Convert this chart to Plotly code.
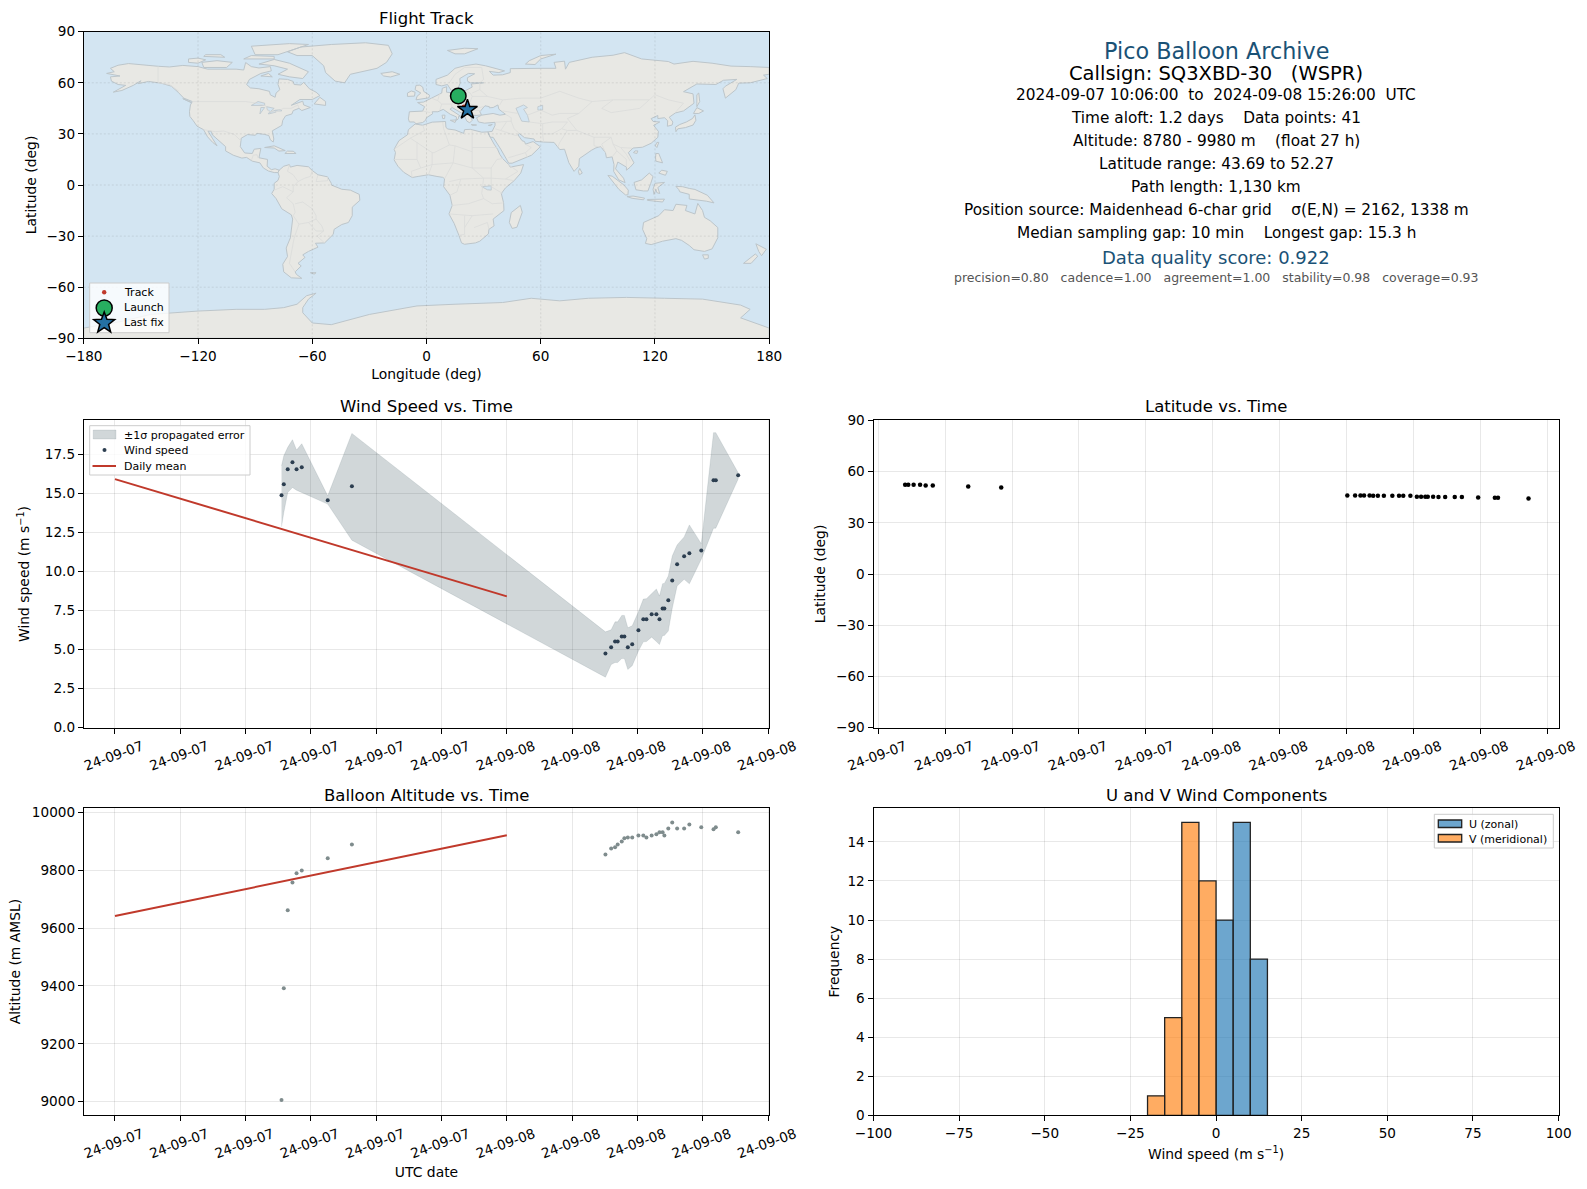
"""Pico balloon flight summary: map, status text, wind, latitude, altitude and wind histogram."""
import math

import pandas as pd
import plotly.graph_objects as go

W, H = 1587, 1189
FONT = "DejaVu Sans"

# Hours after 2024-09-07 00:00 UTC
hours = [10.2, 10.34, 10.58, 10.87, 11.12, 11.44, 13.03, 14.51, 30.04, 30.39, 30.63, 30.79, 31.04,
         31.2, 31.41, 31.68, 32.06, 32.36, 32.55, 32.87, 33.16, 33.35, 33.54, 33.65, 33.89, 34.13,
         34.43, 34.86, 35.18, 35.91, 36.66, 36.8, 38.17]
wind = [14.86, 15.57, 16.53, 16.97, 16.53, 16.65, 14.54, 15.44, 4.75, 5.14, 5.52, 5.52, 5.84,
        5.84, 5.14, 5.33, 6.23, 6.93, 6.93, 7.25, 7.25, 6.93, 7.63, 7.63, 8.15, 9.42,
        10.45, 10.96, 11.15, 11.34, 15.82, 15.82, 16.14]
wind_upper = [16.75, 17.39, 17.93, 18.42, 17.76, 18.16, 14.83, 18.82, 6.13, 6.26, 6.77, 6.77, 7.18,
              7.18, 6.39, 6.52, 7.41, 8.23, 8.25, 8.6, 8.87, 8.42, 9.21, 9.23, 9.7, 10.98,
              11.69, 12.2, 12.97, 11.77, 18.87, 18.87, 16.3]
wind_lower = [12.85, 13.76, 15.04, 15.36, 15.19, 15.04, 14.3, 11.99, 3.23, 4.04, 4.17, 4.17, 4.42,
              4.42, 3.72, 3.97, 4.9, 5.49, 5.51, 5.79, 5.51, 5.32, 5.9, 5.9, 6.18, 7.63,
              9.06, 9.49, 9.2, 10.77, 12.76, 12.76, 15.9]
latitude = [52.27, 52.25, 52.22, 52.2, 51.85, 51.8, 51.2, 50.6, 45.95, 45.95, 45.9, 45.9, 45.9,
            45.85, 45.85, 45.85, 45.85, 45.8, 45.8, 45.8, 45.25, 45.2, 45.2, 45.2, 45.2, 45.15,
            45.1, 45.05, 45.05, 44.8, 44.7, 44.7, 44.2]
longitude = [16.7, 16.8, 16.9, 17.0, 17.1, 17.2, 17.5, 17.8, 19.6, 19.7, 19.7, 19.8, 19.8,
             19.9, 19.9, 20.0, 20.0, 20.1, 20.1, 20.2, 20.3, 20.3, 20.4, 20.4, 20.5, 20.6,
             20.7, 20.8, 20.9, 21.0, 21.2, 21.3, 21.5]
altitude = [9005, 9392, 9662, 9758, 9790, 9800, 9842, 9890, 9855, 9876, 9880, 9890, 9900,
            9911, 9914, 9914, 9921, 9921, 9914, 9921, 9925, 9932, 9932, 9921, 9945, 9966,
            9945, 9945, 9959, 9949, 9942, 9949, 9932]

mean_hours = [0, 24]
mean_wind = [15.9, 8.4]
mean_altitude = [9642, 9922]

bin_centers_u = [2.5, 7.5, 12.5]
counts_u = [10, 15, 8]
bin_centers_v = [-17.5, -12.5, -7.5, -2.5]
counts_v = [1, 5, 15, 12]

lon_ticks = [-180, -120, -60, 0, 60, 120, 180]
lat_ticks = [-90, -60, -30, 0, 30, 60, 90]

# Coarse coastlines, the sandbox has no map tiles or topojson
land = [
    # North America
    [(-168, 65.5), (-164, 66.5), (-166, 68.5), (-162, 70.3), (-156.5, 71.3), (-150, 70.5), (-141, 69.7),
     (-135, 69.3), (-128, 70.2), (-120, 69.5), (-115, 68), (-108, 68), (-100, 68), (-96, 67.5), (-95, 71.9),
     (-92, 69.5), (-88, 68.7), (-82, 69.5), (-81.5, 67), (-87, 65.5), (-93, 62), (-94.5, 59), (-92.5, 57),
     (-88, 56.5), (-82.5, 55), (-82, 52.9), (-79.5, 51.5), (-79, 54), (-77, 56), (-78, 59), (-77.5, 62.3),
     (-73, 62), (-70, 60.8), (-69.5, 59), (-66, 58.7), (-64.5, 60.3), (-61.5, 56.5), (-58, 54.5), (-56, 52.5),
     (-60, 50.2), (-66.5, 50.2), (-71, 46.8), (-65, 49.2), (-64.5, 47), (-61, 45.5), (-65.5, 43.7), (-67, 45),
     (-70, 43.7), (-70.7, 41.7), (-74, 40.6), (-75.5, 38), (-76, 35), (-78, 33.9), (-81, 31.8), (-80.2, 27),
     (-80.5, 25.2), (-82, 26.5), (-82.8, 29), (-85, 29.7), (-89, 30.3), (-90, 29.2), (-94, 29.6), (-97.3, 27.5),
     (-97.8, 22.5), (-95.5, 18.8), (-91.5, 18.5), (-90.5, 21), (-87, 21.5), (-88, 16), (-83.5, 15), (-83.7, 11),
     (-81.5, 9), (-79.5, 9.5), (-77.4, 8.7), (-78, 7.3), (-80, 7.3), (-83, 8.2), (-85.7, 10), (-87.5, 13),
     (-91.5, 14), (-94.5, 16.2), (-97, 15.8), (-101.5, 17.5), (-105.5, 20), (-105.5, 22.5), (-109, 25.8),
     (-112.5, 29.5), (-113, 31.5), (-114.8, 31.7), (-112.5, 27.5), (-110, 23), (-112.3, 25), (-115, 28.3),
     (-117.1, 32.5), (-120.5, 34.5), (-122.5, 37.7), (-124.3, 40.3), (-124.5, 43), (-124, 47), (-123, 49),
     (-127.5, 51), (-130.5, 54.5), (-134, 58), (-139.5, 59.8), (-146, 60.8), (-151.5, 59.5), (-150, 61.2),
     (-154, 58.5), (-160, 55.5), (-164.5, 54.5), (-158, 58.5), (-162, 59), (-165.5, 61), (-166, 63.5),
     (-161, 64), (-168, 65.5)],
    # Greenland and Arctic Canada
    [(-73, 78.2), (-66, 81), (-50, 82.5), (-32, 83.5), (-20, 82), (-18, 77), (-21, 72), (-26, 68.5), (-40, 65),
     (-43, 60), (-48, 61), (-53, 66), (-54, 70), (-60, 76), (-68, 76), (-73, 78.2)],
    [(-80, 73.7), (-72, 71.5), (-67, 69), (-62, 66.5), (-65, 62.5), (-72, 63.5), (-78, 65), (-73, 68), (-80, 70),
     (-88, 71), (-80, 73.7)],
    [(-117, 69), (-105, 69), (-102, 72), (-110, 73), (-118, 72), (-117, 69)],
    [(-90, 76.5), (-78, 76.5), (-62, 82.5), (-72, 83), (-92, 81.5), (-90, 76.5)],
    [(-125, 72), (-120, 71.5), (-116, 73.5), (-120, 74.5), (-125, 74), (-125, 72)],
    [(-117, 75.5), (-106, 75), (-108, 76.5), (-116, 76.5), (-117, 75.5)],
    [(-96, 74), (-80, 74), (-80, 75.5), (-92, 76), (-96, 74)],
    [(-87, 64), (-81, 63.5), (-83, 65.5), (-87, 64)],
    [(-59, 47.6), (-53, 46.7), (-53, 49), (-56, 51.5), (-59, 47.6)],
    [(-128, 50.7), (-123.5, 48.4), (-125, 48.8), (-128, 50.7)],
    # Caribbean
    [(-85, 22), (-80, 23), (-74.2, 20.2), (-77.5, 19.9), (-80, 21.7), (-85, 22)],
    [(-74.4, 18.5), (-68.5, 18.5), (-70, 19.8), (-73, 19.9), (-74.4, 18.5)],
    # South America
    [(-77.4, 8.7), (-75, 11), (-72, 12), (-71.5, 10.5), (-68, 11.5), (-62, 10.7), (-60, 8.5), (-57, 6), (-52, 4.8),
     (-50, 1), (-50, 0), (-44.5, -2.5), (-40, -3), (-35.3, -5.5), (-35, -9), (-39, -13), (-39, -18), (-41, -22),
     (-44.5, -23.2), (-48.5, -26), (-49, -29), (-53.5, -34), (-58.3, -34.2), (-57, -36.5), (-62, -39), (-65, -41),
     (-63.8, -42.5), (-67.5, -46), (-65.8, -47.5), (-69, -51), (-68.3, -52.5), (-65.5, -54.8), (-71, -54.5),
     (-75, -51), (-75.5, -46.5), (-73, -42), (-73.7, -37), (-71.5, -31), (-70.3, -20), (-71, -17.5), (-76, -14),
     (-79, -8), (-81.3, -5), (-80, -2.5), (-80, 1), (-78, 2.7), (-77.3, 5), (-78, 7.3), (-77.4, 8.7)],
    [(-61, -51.5), (-58, -51.5), (-59, -52.3), (-61, -51.5)],
    # Africa
    [(-6, 35.8), (-2, 35.1), (3, 36.9), (10, 37.3), (10.2, 34), (11, 32.9), (15, 32.3), (19.5, 30.3), (20, 32.5),
     (23, 32.7), (29, 31), (32.3, 31.2), (32.5, 30), (33.7, 27.5), (35.5, 24), (37.3, 21), (38.5, 18), (40, 15.5),
     (43.2, 12), (44, 10.5), (51, 12), (49.5, 7), (46, 2.5), (41.5, -1.7), (39.3, -5), (40.5, -10.5), (40.7, -15),
     (35, -20), (35.5, -24), (32.8, -26), (32.5, -28.7), (28, -33), (25.7, -34), (20, -34.8), (18.4, -34),
     (17, -29.5), (14.5, -22.5), (11.8, -17), (13.5, -12), (12.3, -6), (9, -1), (9.5, 3.7), (8.5, 4.5), (5.5, 5),
     (1, 6), (-4, 5.1), (-7.5, 4.4), (-12, 7.5), (-15, 11), (-17, 14.7), (-16.3, 19), (-17, 21), (-14.5, 26),
     (-10, 29.5), (-9.5, 32.5), (-6, 35.8)],
    [(49.3, -12), (50.3, -16), (47.5, -24.8), (45, -25.5), (43.5, -22), (44.5, -16.2), (49.3, -12)],
    # Eurasia
    [(-9, 37), (-9.5, 38.8), (-9, 43), (-2, 43.4), (-1, 46), (-4.7, 48.4), (-1.5, 48.7), (1.5, 50.5), (4, 52), (8, 54),
     (8.3, 56.8), (10.6, 57.7), (10.5, 54.5), (14, 54), (19, 54.5), (21.2, 56), (24, 57.5), (23.5, 59.3), (30, 60),
     (23, 60), (21.5, 61), (21.5, 63), (25.3, 65.3), (22, 65.5), (17.5, 62.5), (17.7, 59.8), (16.5, 56.5), (13, 55.5),
     (11, 59), (8, 58.2), (5, 59), (5, 62), (11, 64.5), (15, 68.5), (20, 70), (26, 71), (31, 70), (41, 67), (38, 66),
     (33, 66.7), (35, 64.5), (40, 64.7), (44, 66), (44, 68.3), (54, 68.7), (60, 68.5), (68, 68.5), (67, 72),
     (72.5, 72.7), (73, 68), (75, 72), (80.5, 73.5), (87, 75), (98, 76.2), (104, 77.7), (113, 74), (127, 72.5),
     (130, 71), (140, 72.6), (150, 71.5), (160, 69.8), (170, 69.5), (180, 69), (180, 65), (177, 64.5), (179, 62.5),
     (170, 60), (164, 59.8), (162.5, 56), (157, 51), (155.7, 56.5), (157, 58), (163, 62), (156, 61.5), (152, 59),
     (142, 59.3), (135, 54.8), (140, 53.5), (140.5, 48), (135, 43.5), (130.7, 42.3), (127.5, 39.8), (129.4, 37),
     (129, 35.2), (126.5, 34.5), (126.7, 37.7), (125, 39.5), (121.5, 39), (121.5, 40.8), (118, 39), (119, 37.3),
     (122.5, 37), (119.3, 35), (121.8, 31.5), (121.5, 28), (118, 24.5), (113.5, 22.2), (108.5, 21.7), (106, 19),
     (109, 13), (107, 10.5), (105, 8.7), (105, 10.5), (100.5, 13.5), (99.3, 9.5), (103.5, 4), (104.3, 1.4), (101, 3),
     (98.3, 8), (98.5, 12), (97.5, 16.5), (94.5, 16), (94, 19), (91.5, 22.5), (89, 21.8), (86.8, 20.5), (80.3, 15.5),
     (80, 11), (77.5, 8), (74.8, 13), (72.8, 19), (72.5, 21), (70, 20.8), (69, 22.3), (67, 25), (61.5, 25.2),
     (57, 25.7), (56.5, 27), (51.5, 27.8), (48.8, 30.2), (48, 29.5), (50.2, 26), (51.5, 25.5), (52, 24), (56, 25.5),
     (59.8, 22.5), (55.2, 17.5), (45, 12.8), (43.2, 12.8), (39, 21), (35, 28), (33.5, 28), (32.6, 30), (32.3, 31.2),
     (34.5, 31.5), (36, 35), (36, 36.8), (30.5, 36.3), (27.3, 37), (26.3, 39.5), (29, 41), (35, 42), (38.5, 41),
     (41.5, 41.5), (38, 44.5), (37.5, 47), (35, 45.5), (33, 45.3), (33, 46), (30.7, 46.5), (28, 43), (28.9, 41.2),
     (26, 40.8), (23, 40.5), (24, 38), (22.7, 36.5), (21.2, 37.5), (19.5, 41.5), (13.5, 45.5), (12.3, 44.5), (16, 41.8),
     (18.4, 40), (17, 40.5), (16.6, 38.7), (15.7, 38), (15.7, 40), (12.5, 41.5), (10.5, 43), (8.8, 44.4), (6, 43),
     (3, 43), (3.2, 41.8), (0, 39.5), (-0.5, 38), (-2, 36.7), (-5.5, 36), (-6.5, 37), (-9, 37)],
    # Europe and Arctic islands
    [(-5.5, 50), (1.3, 51.2), (1.6, 52.7), (-1.5, 55), (-2, 57.5), (-3.5, 58.6), (-5.5, 58.5), (-6, 56), (-3, 54),
     (-5, 52), (-5.5, 50)],
    [(-10, 52), (-6.3, 52.2), (-6, 54.5), (-8, 55.2), (-10, 54), (-10, 52)],
    [(-24, 65.5), (-18, 66.5), (-14, 65), (-19, 63.4), (-22.5, 64), (-24, 65.5)],
    [(11, 79), (20, 80.3), (27, 80), (20, 77), (15, 77), (11, 79)],
    [(52, 71), (57, 70.7), (60, 74), (68, 76.8), (60, 76), (54, 73), (52, 71)],
    [(12.5, 38), (15.5, 38.2), (15, 36.7), (12.5, 37.6), (12.5, 38)],
    [(8.2, 41), (9.7, 41), (9.5, 39), (8.5, 39), (8.2, 41)],
    [(23.5, 35.5), (26.3, 35.2), (24, 35), (23.5, 35.5)],
    [(32.5, 35), (34.5, 35.6), (33.8, 34.8), (32.5, 35)],
    # Asia islands
    [(130.8, 34), (131, 31.3), (132, 33), (136, 33.7), (140, 35.2), (141.5, 38), (141, 41.2), (139.7, 39), (136.5, 37),
     (133, 35.5), (130.8, 34)],
    [(140.2, 42), (143, 42), (145.5, 43.5), (142, 45.4), (141, 43.5), (140.2, 42)],
    [(142, 46), (143.5, 49), (143, 54), (142, 53), (142, 48), (142, 46)],
    [(120.2, 23), (121, 22), (122, 25), (121, 25), (120.2, 23)],
    [(108.7, 19), (110.5, 18.5), (111, 20), (109.5, 20), (108.7, 19)],
    [(79.8, 8), (80.3, 6), (81.8, 7), (80.5, 9.7), (79.8, 8)],
    [(120.3, 16), (120.5, 14), (124, 13), (122, 18.5), (120.5, 18.5), (120.3, 16)],
    [(122, 7), (125.5, 5.7), (126.5, 8), (123.5, 8.7), (122, 7)],
    [(95.3, 5.6), (97.5, 5.2), (103.7, 0), (106, -3), (105.8, -5.8), (104.5, -5.8), (101, -2.5), (95.3, 5.6)],
    [(105.3, -6.8), (108.5, -6.5), (114.5, -7.7), (114, -8.7), (108, -7.8), (105.3, -6.8)],
    [(109, 1.5), (113, 3), (117, 7), (119, 5), (117.8, 1), (116.3, -3.5), (114, -3.5), (110, -2.8), (109, 1.5)],
    [(119.5, -5.5), (120.5, -2.5), (121, -4.5), (122.5, -5), (121.5, -1.5), (125, 1.5), (120, 1), (119, -2.5),
     (119.5, -5.5)],
    [(116, -8.5), (125, -8.3), (124, -10), (116, -9), (116, -8.5)],
    [(131, -0.8), (134.5, -1), (138, -2), (141, -2.6), (147.5, -6), (151, -10.5), (147, -9.5), (143, -9), (138, -8.2),
     (138, -5.5), (133, -4), (132.5, -2.7), (131, -0.8)],
    # Oceania
    [(114, -22), (113.5, -26), (115.7, -31.5), (115, -34.3), (118, -35), (124, -33), (131, -31.5), (134, -32.5),
     (138, -35.5), (140.5, -38), (146, -39), (150, -37.5), (153, -31), (153, -25), (149, -21), (146, -19), (145, -15),
     (142.5, -10.8), (141, -17), (136, -15), (136.8, -12), (131, -11.3), (129.5, -15), (125, -14.5), (122, -18),
     (114, -22)],
    [(145, -41), (148, -41), (148, -43), (146, -43.5), (145, -41)],
    [(173, -34.5), (178.5, -37.7), (176, -41.5), (174.5, -39), (173, -34.5)],
    [(172.7, -40.5), (174, -41.8), (170.5, -46), (166.5, -46), (171, -42), (172.7, -40.5)],
    # Antarctica
    [(-180, -84), (-160, -80), (-145, -76), (-134, -75), (-120, -74), (-100, -73), (-85, -73), (-75, -72), (-68, -70),
     (-63, -65), (-58, -63.5), (-62, -67), (-65, -72), (-65, -75), (-60, -81), (-50, -82), (-40, -79), (-30, -76),
     (-15, -73), (-5, -71), (15, -70), (40, -69), (55, -66.5), (70, -68), (85, -66.5), (105, -66), (125, -66.5),
     (145, -67), (165, -70.5), (170, -73), (165, -78), (180, -84), (180, -90), (-180, -90), (-180, -84)],
]
lakes = [
    [(-92, 46.7), (-85, 46.7), (-85, 48), (-88.5, 49), (-92, 46.7)],
    [(-87.5, 41.7), (-85, 45.5), (-87, 45.5), (-87.5, 41.7)],
    [(-84, 46), (-80, 45), (-82, 43.1), (-83.5, 44), (-84, 46)],
    [(-83, 41.7), (-79, 42.8), (-79.5, 43.5), (-76, 43.5), (-76.5, 44.2), (-79.5, 43.9), (-83, 42.2), (-83, 41.7)],
    [(47, 45), (51, 47), (53, 45.5), (51, 44.5), (53, 41), (54, 37), (50, 37.5), (49, 40), (47.5, 43), (47, 45)],
    [(58.5, 46), (61, 46.8), (61, 44), (58.5, 44), (58.5, 46)],
    [(29, -1), (34, -0.5), (34, -3), (32, -2.8), (29, -1)],
]
borders = [
    [(-123, 49), (-95, 49), (-89, 48), (-84.5, 46.5), (-82.5, 43), (-79, 43), (-75, 45), (-71, 45), (-67.5, 47), (-67, 45)],
    [(-141, 69.7), (-141, 60), (-135, 59), (-130, 55)],
    [(-117, 32.5), (-111, 31.3), (-106.5, 31.7), (-101, 29.7), (-97.5, 26)],
    [(-92, 14.5), (-91, 17.5), (-89, 17.8), (-88.5, 15.8)],
    [(-72, 12), (-73, 8), (-70, 6), (-67.5, 2), (-70, -1), (-70, -4), (-73.5, -7.5), (-70, -11), (-69, -16), (-70, -18)],
    [(-60, 8.5), (-61, 5), (-64, 4), (-67.5, 2)],
    [(-57, 6), (-58, 2), (-52, 2.5), (-52, 4.8)],
    [(-80, -3), (-75.5, -1), (-70, -4)],
    [(-69, -11), (-65, -10), (-60, -14), (-58, -18), (-58, -20), (-55, -24), (-54, -27), (-57.5, -30), (-53.5, -34)],
    [(-70, -18), (-67, -23), (-69.5, -31), (-71, -39), (-72, -46), (-69, -51)],
    [(-67, -23), (-62, -22), (-58, -20)], [(-62, -22), (-58, -27), (-54, -27)],
    [(-8.5, 27.5), (-1, 32), (-2, 35.1)], [(-8.5, 27.5), (-17, 21)], [(-8.5, 27.5), (-5, 25), (3, 19), (4, 19), (12, 23.5),
     (10, 30), (9, 33), (8.5, 37)],
    [(12, 23.5), (15, 23), (24, 19.5), (24, 32)], [(24, 22), (37, 22)], [(3, 19), (3, 12), (1, 6)],
    [(-5, 25), (-5, 15), (-12, 15), (-17, 15)], [(-5, 15), (-3, 10), (-8, 8), (-7.5, 4.4)], [(-3, 10), (3, 12)],
    [(3, 12), (14, 13), (15, 23)], [(14, 13), (9.5, 3.7)], [(14, 13), (24, 10), (24, 19.5)], [(24, 10), (34, 10), (37, 15), (40, 15.5)],
    [(24, 10), (30, 4), (34, 4), (41.5, 3.5), (46, 2.5)], [(34, 10), (34, 4), (34, -1), (40, -5)], [(43, 12), (48, 8), (41.5, 3.5)],
    [(12, 2), (18, 3.5), (30, 4)], [(18, 3.5), (16, -4), (12.3, -6)], [(30, 4), (29, -5), (30, -8), (22, -11), (13.5, -12)],
    [(30, -8), (34.5, -11), (40.5, -10.5)], [(12, -17), (24, -18), (35, -17)], [(20, -18), (20, -29), (17, -29.5)],
    [(24, -18), (20, -25)], [(25, -25), (32, -22), (32.8, -26)],
    [(2, 42.5), (-2, 43.4)], [(2.5, 51), (6, 49.5), (8, 47.5), (7, 44)], [(8, 47.5), (13, 47.5), (13.5, 45.5)], [(7, 54), (6, 50)],
    [(14, 54), (15, 51), (18, 49.5), (23, 49), (24, 52), (23, 54), (21, 55)], [(13, 47.5), (17, 48), (22, 48), (28, 45.5), (30, 46)],
    [(22, 48), (23, 49)], [(24, 52), (32, 52)], [(28, 60), (28, 56), (32, 52), (40, 50), (38.5, 47)], [(28, 56), (24, 54)],
    [(22, 44), (28.5, 43.7)], [(19.5, 42), (26, 41.5)], [(20, 69), (29, 69), (30, 62), (28, 60)], [(12, 60), (15, 65), (20, 69)],
    [(40, 43.5), (48, 42)], [(50, 51), (40, 50)], [(50, 51), (60, 51), (70, 55), (80, 51), (87, 49), (98, 50), (107, 50), (117, 50),
     (120, 53), (127, 50), (135, 48), (131, 43)],
    [(87, 49), (80, 42), (74, 39), (79, 32), (88, 28), (97, 28), (98, 24), (102, 22), (108, 21.6)], [(98, 50), (92, 45), (97, 42.5), (112, 45),
     (117, 50)],
    [(53, 41), (60, 44), (66, 41), (70, 42), (80, 42)], [(54, 37), (61, 36), (66, 37), (74, 37)], [(61, 36), (61, 30), (61.5, 25.2)],
    [(74, 37), (71, 33), (66, 30), (61, 30)], [(71, 33), (74, 32), (70, 25), (69, 22.3)], [(74, 32), (79, 32)],
    [(88, 28), (88, 23), (92, 22)], [(97, 28), (92, 24), (94, 19)], [(98, 24), (100, 20), (97.5, 16.5)], [(100, 20), (105, 15), (105, 10.5)], [(102, 22), (105, 18), (107, 14)],
    [(36, 36.8), (42, 37), (44.5, 37.5), (46, 33), (48.8, 30.2)], [(44.5, 37.5), (44.5, 39.5), (41.5, 41.5)], [(36, 33), (39, 32), (42, 37)],
    [(39, 32), (47, 29), (48, 29.5)], [(43, 16), (52, 19), (55, 22), (52, 24)], [(52, 19), (53, 16)],
]

RED = "#c0392b"
GREEN = "#27ae60"
BLUE = "#2471a3"
NAVY = "#2c3e50"
BAND = "rgba(44,72,80,0.22)"
BAR_U = "rgba(31,119,180,0.65)"
BAR_V = "rgba(255,127,14,0.65)"
BAR_EDGE = "#222"


def trace_xy(shapes):
    # Join polygons into one trace, separated by gaps
    xs, ys = [], []
    for shape in shapes:
        xs += [p[0] for p in shape] + [None]
        ys += [p[1] for p in shape] + [None]
    return xs, ys


def to_times(values):
    return [pd.Timestamp("2024-09-07") + pd.Timedelta(hours=v) for v in values]


def dx(px):
    return px / W


def dy(px):
    return 1 - px / H


# Axes boxes in pixels: left, right, top, bottom
BOX_MAP = (83.8, 769.2, 31.7, 338.3)
BOX_WIND = (83.8, 769.2, 420.3, 727.7)
BOX_ALT = (83.8, 769.2, 807.7, 1115.4)
BOX_LAT = (873.5, 1558.6, 420.3, 727.7)
BOX_HIST = (873.5, 1558.6, 807.7, 1115.4)

times = to_times(hours)
mean_times = to_times(mean_hours)
fig = go.Figure()

# Map panel
land_x, land_y = trace_xy(land)
lake_x, lake_y = trace_xy(lakes)
border_x, border_y = trace_xy(borders)
fig.add_trace(go.Scatter(x=land_x, y=land_y, mode="lines", fill="toself", fillcolor="#e8e8e4",
                         line=dict(color="#bcc5ca", width=1), hoverinfo="skip", xaxis="x", yaxis="y"))
fig.add_trace(go.Scatter(x=lake_x, y=lake_y, mode="lines", fill="toself", fillcolor="#d3e5f2",
                         line=dict(color="#bcc5ca", width=0.8), hoverinfo="skip", xaxis="x", yaxis="y"))
fig.add_trace(go.Scatter(x=border_x, y=border_y, mode="lines", line=dict(color="#dbdcda", width=0.8),
                         hoverinfo="skip", xaxis="x", yaxis="y"))
fig.add_trace(go.Scatter(x=longitude, y=latitude, mode="markers", name="Track",
                         marker=dict(color=RED, size=4), xaxis="x", yaxis="y"))
fig.add_trace(go.Scatter(x=longitude[:1], y=latitude[:1], mode="markers", name="Launch",
                         marker=dict(color=GREEN, size=15.5, line=dict(color="black", width=1.5)), xaxis="x", yaxis="y"))
fig.add_trace(go.Scatter(x=longitude[-1:], y=latitude[-1:], mode="markers", name="Last fix",
                         marker=dict(color=BLUE, size=15, symbol="star", line=dict(color="black", width=1.5)),
                         xaxis="x", yaxis="y"))

# Wind panel
fig.add_trace(go.Scatter(x=times + times[::-1], y=wind_upper + wind_lower[::-1], mode="lines", fill="toself",
                         name="±1σ propagated error", fillcolor=BAND,
                         line=dict(color="rgba(44,72,80,0.1)", width=1), xaxis="x2", yaxis="y2"))
fig.add_trace(go.Scatter(x=times, y=wind, mode="markers", name="Wind speed",
                         marker=dict(color=NAVY, size=4), xaxis="x2", yaxis="y2"))
fig.add_trace(go.Scatter(x=mean_times, y=mean_wind, mode="lines", name="Daily mean",
                         line=dict(color=RED, width=2), xaxis="x2", yaxis="y2"))

# Latitude panel
fig.add_trace(go.Scatter(x=times, y=latitude, mode="markers", marker=dict(color="black", size=4.5),
                         name="Latitude", xaxis="x3", yaxis="y3"))

# Altitude panel
fig.add_trace(go.Scatter(x=times, y=altitude, mode="markers", marker=dict(color="#7f8c8d", size=4),
                         name="Altitude", xaxis="x4", yaxis="y4"))
fig.add_trace(go.Scatter(x=mean_times, y=mean_altitude, mode="lines", line=dict(color=RED, width=2),
                         name="Daily mean", xaxis="x4", yaxis="y4"))

# Histogram panel
fig.add_trace(go.Bar(x=bin_centers_u, y=counts_u, width=5, name="U (zonal)",
                     marker=dict(color=BAR_U, line=dict(color=BAR_EDGE, width=1.3)), xaxis="x5", yaxis="y5"))
fig.add_trace(go.Bar(x=bin_centers_v, y=counts_v, width=5, name="V (meridional)",
                     marker=dict(color=BAR_V, line=dict(color=BAR_EDGE, width=1.3)), xaxis="x5", yaxis="y5"))

GRID = "rgba(0,0,0,0.09)"
axis_base = dict(showline=True, mirror=True, linecolor="black", linewidth=1, ticks="outside", ticklen=5,
                 tickcolor="black", tickwidth=1, gridcolor=GRID, gridwidth=1.3, zeroline=False,
                 tickfont=dict(size=13.6, color="black"))
time_axis = dict(axis_base, type="date", tickformat="%y-%m-%d", tickangle=-20, ticklabelshift=27)


def domain_x(box):
    return [dx(box[0]), dx(box[1])]


def domain_y(box):
    return [dy(box[3]), dy(box[2])]


def axis_title(text, standoff):
    return dict(text=text, font=dict(size=13.9, color="black"), standoff=standoff)


# Time axes have ticks every 4 hours on the left column and every 3 hours on the latitude panel
wind_range = [pd.Timestamp("2024-09-07") + pd.Timedelta(hours=h) for h in (-1.91, 40.07)]
lat_range = [pd.Timestamp("2024-09-07") + pd.Timedelta(hours=h) for h in (8.78, 39.52)]

fig.update_layout(
    width=W, height=H, margin=dict(l=0, r=0, t=0, b=0, autoexpand=False), autosize=False,
    paper_bgcolor="white", plot_bgcolor="white", barmode="overlay", hovermode="closest", showlegend=False,
    font=dict(family=FONT, size=13, color="black"),
    xaxis=dict(axis_base, domain=domain_x(BOX_MAP), range=[-180, 180], tickvals=lon_ticks, showgrid=False,
               title=axis_title("Longitude (deg)", 6), anchor="y"),
    yaxis=dict(axis_base, domain=domain_y(BOX_MAP), range=[-90, 90], tickvals=lat_ticks, showgrid=False,
               title=axis_title("Latitude (deg)", 6), anchor="x"),
    xaxis2=dict(time_axis, domain=domain_x(BOX_WIND), range=wind_range, tick0="2024-09-07", dtick=4 * 3600000,
                anchor="y2"),
    yaxis2=dict(axis_base, domain=domain_y(BOX_WIND), range=[0, 19.66], dtick=2.5, tickformat=".1f",
                title=axis_title("Wind speed (m s<sup>−1</sup>)", 11), anchor="x2"),
    xaxis3=dict(time_axis, domain=domain_x(BOX_LAT), range=lat_range, tick0="2024-09-07 09:00", dtick=3 * 3600000,
                anchor="y3"),
    yaxis3=dict(axis_base, domain=domain_y(BOX_LAT), range=[-90, 90], tickvals=lat_ticks,
                title=axis_title("Latitude (deg)", 7), anchor="x3"),
    xaxis4=dict(time_axis, domain=domain_x(BOX_ALT), range=wind_range, tick0="2024-09-07", dtick=4 * 3600000,
                title=axis_title("UTC date", 7), anchor="y4"),
    yaxis4=dict(axis_base, domain=domain_y(BOX_ALT), range=[8952, 10017], dtick=200, tickformat="d",
                title=axis_title("Altitude (m AMSL)", 7), anchor="x4"),
    xaxis5=dict(axis_base, domain=domain_x(BOX_HIST), range=[-100, 100], dtick=25,
                title=axis_title("Wind speed (m s<sup>−1</sup>)", 9), anchor="y5"),
    yaxis5=dict(axis_base, domain=domain_y(BOX_HIST), range=[0, 15.75], dtick=2,
                title=axis_title("Frequency", 4), anchor="x5"),
)

# Ocean behind the land, grid over it
fig.add_shape(type="rect", xref="x", yref="y", x0=-180, x1=180, y0=-90, y1=90, layer="below",
              fillcolor="#d3e5f2", line_width=0)
for lon in lon_ticks[1:-1]:
    fig.add_shape(type="line", xref="x", yref="y", x0=lon, x1=lon, y0=-90, y1=90,
                  line=dict(color="rgba(90,90,90,0.18)", width=0.8, dash="2px,2px"))
for lat in lat_ticks[1:-1]:
    fig.add_shape(type="line", xref="x", yref="y", x0=-180, x1=180, y0=lat, y1=lat,
                  line=dict(color="rgba(90,90,90,0.18)", width=0.8, dash="2px,2px"))


# Legends are drawn by hand, the built-in one has a minimum row height that is too tall here
def paper_rect(x0, y0, x1, y1, fill, line=None, width=1):
    fig.add_shape(type="rect", xref="paper", yref="paper", x0=dx(x0), x1=dx(x1), y0=dy(y0), y1=dy(y1),
                  fillcolor=fill, line=dict(color=line, width=width) if line else dict(width=0))


def paper_dot(x, y, r, fill, line=None, width=1):
    fig.add_shape(type="circle", xref="paper", yref="paper", x0=dx(x - r), x1=dx(x + r), y0=dy(y + r), y1=dy(y - r),
                  fillcolor=fill, line=dict(color=line, width=width) if line else dict(width=0))


def paper_star(x, y, r, fill, line, width):
    points = []
    for i in range(10):
        radius = r if i % 2 == 0 else r * 0.42
        angle = math.pi / 2 + i * math.pi / 5
        points.append((dx(x + radius * math.cos(angle)), dy(y - radius * math.sin(angle))))
    path = "M " + " L ".join(f"{px:.5f},{py:.5f}" for px, py in points) + " Z"
    fig.add_shape(type="path", xref="paper", yref="paper", path=path, fillcolor=fill, line=dict(color=line, width=width))


def paper_label(x, y, text):
    fig.add_annotation(x=dx(x), y=dy(y), xref="paper", yref="paper", text=text, showarrow=False,
                       xanchor="left", yanchor="middle", font=dict(size=11, color="black"))


LEGEND_BG = "rgba(255,255,255,0.8)"
LEGEND_EDGE = "#cccccc"

# Map legend
paper_rect(89.7, 283, 169, 332.7, LEGEND_BG, LEGEND_EDGE)
paper_dot(104.2, 292.3, 2.2, RED)
paper_dot(104.2, 308, 8, GREEN, "black", 1.5)
paper_star(104.2, 323, 11, BLUE, "black", 1.5)
paper_label(121.5, 292.3, "Track")
paper_label(121.5, 308, "Launch")
paper_label(121.5, 323, "Last fix")

# Wind legend
paper_rect(89.7, 425.7, 250, 475, LEGEND_BG, LEGEND_EDGE)
paper_rect(93.2, 430, 116, 439, BAND, "rgba(44,72,80,0.1)")
paper_dot(104.5, 450, 2, NAVY)
fig.add_shape(type="line", xref="paper", yref="paper", x0=dx(92.5), x1=dx(116), y0=dy(466), y1=dy(466),
              line=dict(color=RED, width=2))
paper_label(121.5, 435, "±1σ propagated error")
paper_label(121.5, 450, "Wind speed")
paper_label(121.5, 466, "Daily mean")

# Histogram legend
paper_rect(1434.3, 814.3, 1553.3, 848, LEGEND_BG, LEGEND_EDGE)
paper_rect(1438.3, 820, 1461.7, 827.5, BAR_U, BAR_EDGE, 1.3)
paper_rect(1438.3, 834.5, 1461.7, 842, BAR_V, BAR_EDGE, 1.3)
paper_label(1467, 824, "U (zonal)")
paper_label(1467, 839, "V (meridional)")

# Panel titles
titles = ["Flight Track", "Wind Speed vs. Time", "Latitude vs. Time", "Balloon Altitude vs. Time",
          "U and V Wind Components"]
title_boxes = [BOX_MAP, BOX_WIND, BOX_LAT, BOX_ALT, BOX_HIST]
title_gaps = [2, 2, 2, 1, 1]
for text, box, gap in zip(titles, title_boxes, title_gaps):
    fig.add_annotation(x=dx((box[0] + box[1]) / 2), y=dy(box[2] - gap), xref="paper", yref="paper", text=text,
                       showarrow=False, xanchor="center", yanchor="bottom",
                       font=dict(size=16.5, color="black"))

# Summary text
NB = "\u00a0"
info_lines = [
    ("Pico Balloon Archive", 50.5, 22.3, "#1a5276"),
    (f"Callsign: SQ3XBD-30{NB*3}(WSPR)", 73, 19.5, "black"),
    (f"2024-09-07 10:06:00{NB*2}to{NB*2}2024-09-08 15:26:00{NB*2}UTC", 95.2, 15.3, "black"),
    (f"Time aloft: 1.2 days{NB*4}Data points: 41", 118, 15.3, "black"),
    (f"Altitude: 8780 - 9980 m{NB*4}(float 27 h)", 141, 15.3, "black"),
    ("Latitude range: 43.69 to 52.27", 163.5, 15.3, "black"),
    ("Path length: 1,130 km", 187, 15.3, "black"),
    (f"Position source: Maidenhead 6-char grid{NB*4}σ(E,N) = 2162, 1338 m", 209.8, 15.3, "black"),
    (f"Median sampling gap: 10 min{NB*4}Longest gap: 15.3 h", 233.3, 15.3, "black"),
    ("Data quality score: 0.922", 257, 18, "#1a5276"),
    (f"precision=0.80{NB*3}cadence=1.00{NB*3}agreement=1.00{NB*3}stability=0.98{NB*3}coverage=0.93", 277.5, 12.5, "#555555"),
]
for text, ypx, size, color in info_lines:
    fig.add_annotation(x=dx(1216), y=dy(ypx), xref="paper", yref="paper", text=text, showarrow=False,
                       xanchor="center", yanchor="middle", font=dict(size=size, color=color))

fig.write_html("out.html", config={"displayModeBar": False},
               post_script="document.body.style.margin='0';document.body.style.overflow='hidden';")
